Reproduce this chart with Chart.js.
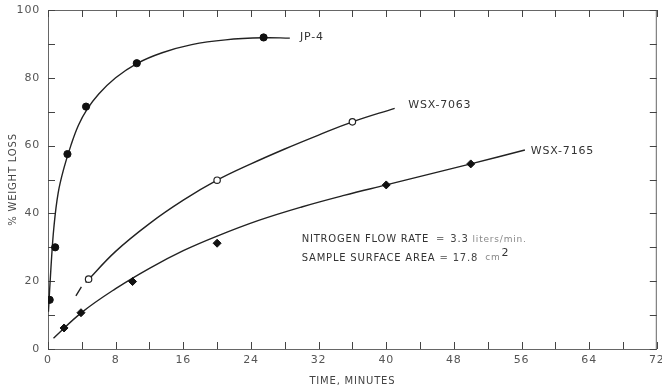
<!DOCTYPE html>
<html>
<head>
<meta charset="utf-8">
<script src="https://cdn.jsdelivr.net/npm/chart.js@4.4.0/dist/chart.umd.min.js"></script>
<style>
  html, body { margin:0; padding:0; background:#fff; }
</style>
</head>
<body>
<canvas id="chart" width="662" height="390"></canvas>
<script>
// ====== DATA ======
// measured points
const jp4X   = [0.2, 0.85, 2.3, 4.5, 10.5, 25.5];
const jp4Y   = [14.5, 30, 57.5, 71.5, 84.3, 91.9];
const w7063X = [4.8, 20, 36];
const w7063Y = [20.6, 49.8, 67];
const w7165X = [1.9, 3.9, 10, 20, 40, 50];
const w7165Y = [6.2, 10.7, 19.9, 31.2, 48.4, 54.6];

// hand drawn fit curves (null = break in the line)
const jp4CurveX   = [0.05, 0.35, 0.7, 1.2, 1.9, 2.7, 3.6, 4.6, 6, 8, 10.5, 13.5, 17, 21, 25.5, 28.6];
const jp4CurveY   = [11, 24, 36, 46, 53.5, 60, 66, 70.6, 75.2, 80, 84.2, 87.4, 89.8, 91.2, 91.8, 91.7];
const w7063CurveX = [3.3, 3.95, 4.2, 4.45, 8, 12, 16, 20, 24, 28, 32, 36, 41];
const w7063CurveY = [15.7, 18.3, null, 19.6, 28.8, 37, 43.9, 49.8, 54.6, 59, 63.1, 67, 71];
const w7165CurveX = [0.65, 4, 8, 12, 16, 20, 25, 30, 35, 40, 45, 50, 56.4];
const w7165CurveY = [3.2, 10.8, 17.8, 23.8, 29, 33.3, 38, 41.9, 45.3, 48.4, 51.5, 54.6, 58.7];

// series labels, anchored at data coords
const seriesNames  = ['JP-4', 'WSX-7063', 'WSX-7165'];
const seriesLabelX = [29.8, 42.6, 57.1];
const seriesLabelY = [92, 72, 58.4];

// note text
const noteX = 30.0;
const noteY = [32.2, 26.8];

const xTickStep = 4, xLabelStep = 8;
const yTickStep = 10, yLabelStep = 20;

// ====== HELPERS ======
const pts = (xs, ys) => xs.map((x, i) => ({ x, y: ys[i] }));
const INK = '#222';
const GREY = '#555';

Chart.defaults.font.family = '"DejaVu Sans", sans-serif';
Chart.defaults.color = GREY;

// inward ticks on all four sides + frame + text
const paperPlugin = {
  id: 'paper',
  beforeDraw(chart) {
    chart.ctx.letterSpacing = '0.8px';
  },
  beforeDatasetsDraw(chart) {
    const { ctx, chartArea: a, scales: { x, y } } = chart;
    ctx.save();
    ctx.strokeStyle = '#666';
    ctx.lineWidth = 1;
    ctx.strokeRect(a.left + 0.5, a.top + 0.5, a.right - a.left - 1, a.bottom - a.top);
    ctx.strokeStyle = '#444';
    ctx.beginPath();
    x.ticks.forEach(t => {
      const px = Math.round(x.getPixelForValue(t.value)) + 0.5;
      ctx.moveTo(px, a.bottom); ctx.lineTo(px, a.bottom - 7);
      ctx.moveTo(px, a.top); ctx.lineTo(px, a.top + 7);
    });
    y.ticks.forEach(t => {
      const py = Math.round(y.getPixelForValue(t.value)) + 0.5;
      ctx.moveTo(a.left, py); ctx.lineTo(a.left + 7, py);
      ctx.moveTo(a.right, py); ctx.lineTo(a.right - 7, py);
    });
    ctx.stroke();
    ctx.restore();
  },
  afterDraw(chart) {
    const { ctx, scales: { x, y } } = chart;
    ctx.save();
    ctx.letterSpacing = '0.8px';
    ctx.textBaseline = 'middle';
    ctx.textAlign = 'left';
    ctx.fillStyle = '#333';
    ctx.font = '11px "DejaVu Sans"';
    seriesNames.forEach((n, i) => {
      ctx.fillText(n, x.getPixelForValue(seriesLabelX[i]), y.getPixelForValue(seriesLabelY[i]));
    });

    const lines = [
      [['NITROGEN FLOW RATE', 10, '#333', 0, 7], ['=', 10, '#777', 0, 5], ['3.3', 10, '#444', 0, 4], ['liters/min.', 9, '#888', 0, 0]],
      [['SAMPLE SURFACE AREA', 10, '#333', 0, 4], ['=', 10, '#777', 0, 4], ['17.8', 10, '#444', 0, 7], ['cm', 9, '#888', 0, 1], ['2', 11, '#333', -5, 0]]
    ];
    lines.forEach((parts, li) => {
      let px = x.getPixelForValue(noteX);
      const py = y.getPixelForValue(noteY[li]);
      parts.forEach(([txt, size, col, dy, gap]) => {
        ctx.font = size + 'px "DejaVu Sans"';
        ctx.fillStyle = col;
        ctx.fillText(txt, px, py + dy);
        px += ctx.measureText(txt).width + gap;
      });
    });
    ctx.restore();
  }
};

// ====== CHART ======
const curveStyle = {
  showLine: true, pointRadius: 0, borderColor: INK, borderWidth: 1.4,
  tension: 0.4, spanGaps: false, fill: false
};

new Chart(document.getElementById('chart').getContext('2d'), {
  type: 'scatter',
  data: {
    datasets: [
      { label: 'JP-4 pts', data: pts(jp4X, jp4Y), pointStyle: 'circle', pointRadius: 3.6,
        backgroundColor: '#111', borderColor: '#111', borderWidth: 1 },
      { label: 'WSX-7063 pts', data: pts(w7063X, w7063Y), pointStyle: 'circle', pointRadius: 3.2,
        backgroundColor: '#fff', borderColor: INK, borderWidth: 1.2 },
      { label: 'WSX-7165 pts', data: pts(w7165X, w7165Y), pointStyle: 'rectRot', pointRadius: 4,
        backgroundColor: '#111', borderColor: '#111', borderWidth: 1 },
      { label: 'JP-4', data: pts(jp4CurveX, jp4CurveY), ...curveStyle },
      { label: 'WSX-7063', data: pts(w7063CurveX, w7063CurveY), ...curveStyle },
      { label: 'WSX-7165', data: pts(w7165CurveX, w7165CurveY), ...curveStyle }
    ]
  },
  options: {
    responsive: false,
    animation: false,
    devicePixelRatio: 1,
    layout: { padding: { top: 10, right: 5, left: 0, bottom: 0 } },
    plugins: { legend: { display: false }, tooltip: { enabled: false } },
    scales: {
      x: {
        type: 'linear', min: 0, max: 72,
        grid: { display: false, drawTicks: false },
        border: { display: false },
        ticks: {
          stepSize: xTickStep, autoSkip: false, maxRotation: 0, padding: 5,
          font: { size: 11 }, color: GREY,
          callback: v => (v % xLabelStep === 0 ? v : '')
        },
        title: { display: true, text: 'TIME, MINUTES', font: { size: 10 }, color: '#444', padding: { top: 0, bottom: 3 } },
        afterFit: s => { s.height = 41; s.paddingLeft = 0; s.paddingRight = 0; }
      },
      y: {
        type: 'linear', min: 0, max: 100,
        grid: { display: false, drawTicks: false },
        border: { display: false },
        ticks: {
          stepSize: yTickStep, autoSkip: false, padding: 8,
          font: { size: 11 }, color: GREY,
          callback: v => (v % yLabelStep === 0 ? v : '')
        },
        title: { display: true, text: '% WEIGHT LOSS', font: { size: 10 }, color: '#444', padding: { top: 7, bottom: 0 } },
        afterFit: s => { s.width = 48; s.paddingTop = 0; s.paddingBottom = 0; }
      }
    }
  },
  plugins: [paperPlugin]
});
</script>
</body>
</html>
